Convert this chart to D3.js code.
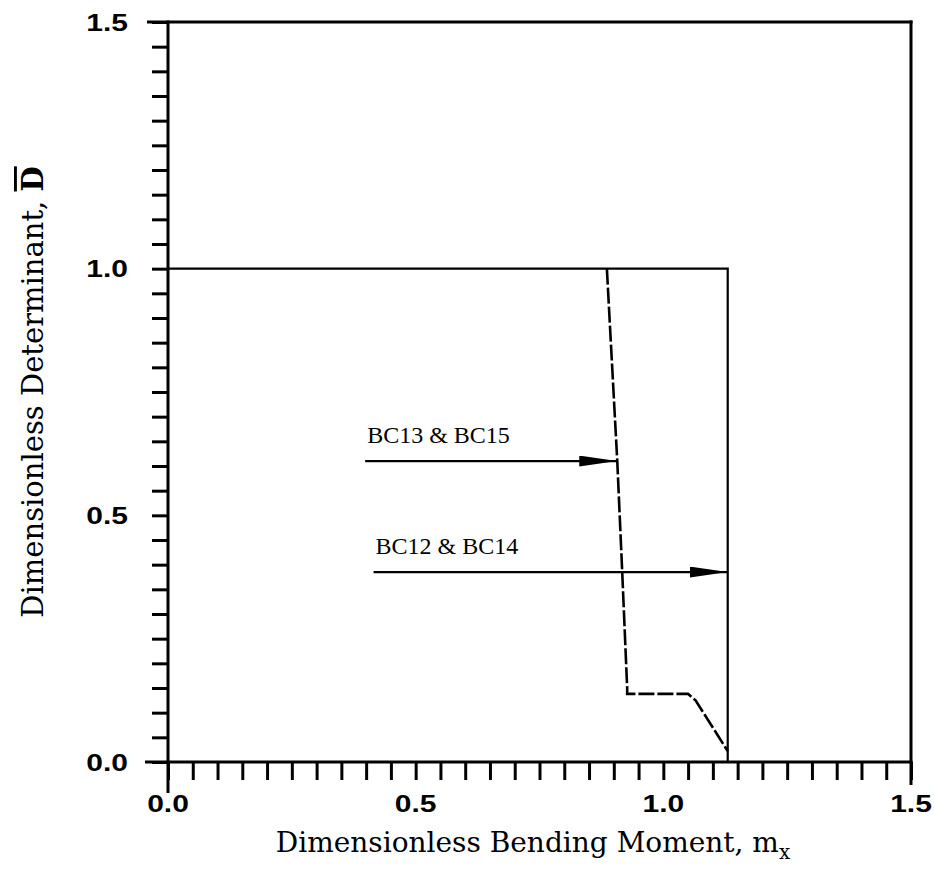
<!DOCTYPE html>
<html>
<head>
<meta charset="utf-8">
<script src="https://cdn.jsdelivr.net/npm/d3@7"></script>
<style>
  html, body { margin: 0; padding: 0; background: #fff; }
  svg { display: block; }
</style>
</head>
<body>
<svg id="chart" width="934" height="876"></svg>
<script>
// Axis ranges and labelled ticks
const xDomain = [0, 1.5];
const yDomain = [0, 1.5];
const tickStep = 0.05;
const xTickLabels = ["0.0", "0.5", "1.0", "1.5"];
const yTickLabels = ["0.0", "0.5", "1.0", "1.5"];

// BC12 & BC14: solid curve (m_x, D)
const bc12M = [0.0, 1.13, 1.13];
const bc12D = [1.0, 1.0, 0.0];

// BC13 & BC15: dashed curve (m_x, D)
const bc13M = [0.886, 0.907, 0.917, 0.927, 0.927, 1.05, 1.065, 1.125, 1.13];
const bc13D = [1.0, 0.61, 0.385, 0.15, 0.138, 0.138, 0.125, 0.03, 0.022];

// Annotations: label, arrow start m_x, arrow tip m_x, D level
const noteLabels = ["BC13 & BC15", "BC12 & BC14"];
const noteStartM = [0.398, 0.415];
const noteTipM = [0.907, 1.13];
const noteD = [0.61, 0.385];

const svg = d3.select("#chart");
const x = d3.scaleLinear().domain(xDomain).range([168, 911]);
const y = d3.scaleLinear().domain(yDomain).range([762, 22]);

const ticks = d3.range(0, 1.5 + 1e-9, tickStep);

// Arrowhead marker
svg.append("defs").append("marker")
  .attr("id", "arrow")
  .attr("viewBox", "0 0 38 11")
  .attr("refX", 38).attr("refY", 5.5)
  .attr("markerWidth", 38).attr("markerHeight", 11)
  .attr("markerUnits", "userSpaceOnUse")
  .attr("orient", "auto")
  .append("path")
  .attr("d", "M0,0 L38,5.5 L0,11 Z")
  .attr("fill", "#000");

// Axes with outward ticks every 0.05
const xAxis = d3.axisBottom(x).tickValues(ticks).tickSize(18).tickFormat("");
const yAxis = d3.axisLeft(y).tickValues(ticks).tickSize(16).tickFormat("");

const gx = svg.append("g").attr("transform", `translate(0,${y(0)})`).call(xAxis);
const gy = svg.append("g").attr("transform", `translate(${x(0)},0)`).call(yAxis);
[gx, gy].forEach(g => {
  g.select(".domain").remove();
  g.selectAll("line").attr("stroke", "#000").attr("stroke-width", 3);
});

// Frame with longer corner ticks
const frame = svg.append("g").attr("stroke", "#000").attr("stroke-width", 3).attr("fill", "none");
frame.append("line").attr("x1", x(0) - 21).attr("x2", x(1.5) + 1.5).attr("y1", y(1.5)).attr("y2", y(1.5));
frame.append("line").attr("x1", x(0) - 23).attr("x2", x(1.5) + 1.5).attr("y1", y(0)).attr("y2", y(0));
frame.append("line").attr("x1", x(0)).attr("x2", x(0)).attr("y1", y(1.5) - 1.5).attr("y2", y(0) + 31);
frame.append("line").attr("x1", x(1.5)).attr("x2", x(1.5)).attr("y1", y(1.5) - 1.5).attr("y2", y(0) + 23);

// Tick labels (wide bold sans, stretched horizontally)
const tickFont = "Liberation Sans, Arial, sans-serif";
svg.append("g").selectAll("text").data(xTickLabels).join("text")
  .attr("transform", d => `translate(${x(+d)},812) scale(1.25,1)`)
  .attr("text-anchor", "middle")
  .attr("font-family", tickFont).attr("font-weight", "bold").attr("font-size", 24)
  .text(d => d);
svg.append("g").selectAll("text").data(yTickLabels).join("text")
  .attr("transform", d => `translate(128,${y(+d) + 8.5}) scale(1.25,1)`)
  .attr("text-anchor", "end")
  .attr("font-family", tickFont).attr("font-weight", "bold").attr("font-size", 24)
  .text(d => d);

// Axis titles
const serif = "DejaVu Serif, Liberation Serif, serif";
const xt = svg.append("text")
  .attr("x", 533).attr("y", 852)
  .attr("text-anchor", "middle")
  .attr("font-family", serif).attr("font-size", 28);
xt.append("tspan").text("Dimensionless Bending Moment, m");
xt.append("tspan").attr("dy", 7).attr("font-size", 20).text("x");

const yt = svg.append("text")
  .attr("transform", "translate(43,392) rotate(-90)")
  .attr("text-anchor", "middle")
  .attr("font-family", serif).attr("font-size", 29);
yt.append("tspan").text("Dimensionless Determinant, ");
yt.append("tspan").attr("font-weight", "bold").attr("text-decoration", "overline").text("D");

// Curves
const line = d3.line().x(d => x(d[0])).y(d => y(d[1]));
svg.append("path")
  .datum(d3.zip(bc12M, bc12D))
  .attr("d", line)
  .attr("fill", "none").attr("stroke", "#000").attr("stroke-width", 2.2);
svg.append("path")
  .datum(d3.zip(bc13M, bc13D))
  .attr("d", line)
  .attr("fill", "none").attr("stroke", "#000").attr("stroke-width", 2.6)
  .attr("stroke-dasharray", "16,3");

// Annotation arrows and labels
const noteFont = "Liberation Serif, Times New Roman, serif";
noteLabels.forEach((lab, i) => {
  svg.append("line")
    .attr("x1", x(noteStartM[i])).attr("x2", x(noteTipM[i]))
    .attr("y1", y(noteD[i])).attr("y2", y(noteD[i]))
    .attr("stroke", "#000").attr("stroke-width", 2.2)
    .attr("marker-end", "url(#arrow)");
  svg.append("text")
    .attr("x", x(noteStartM[i]) + 2).attr("y", y(noteD[i]) - 18)
    .attr("font-family", noteFont).attr("font-size", 24)
    .text(lab);
});
</script>
</body>
</html>
